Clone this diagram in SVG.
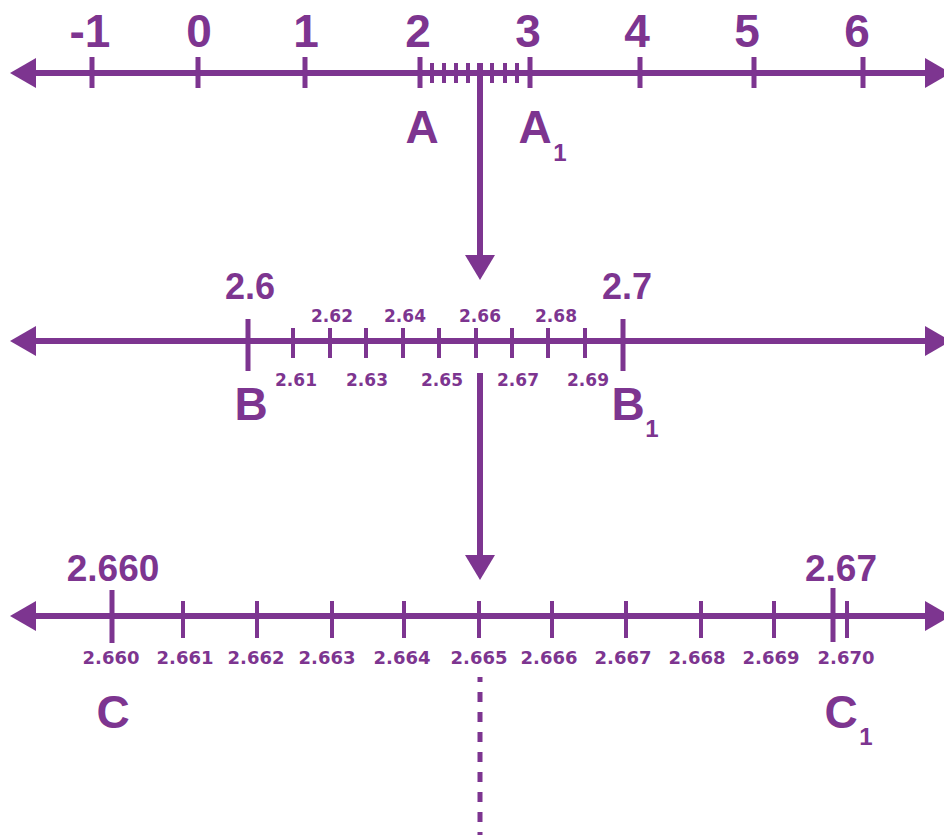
<svg xmlns="http://www.w3.org/2000/svg" width="944" height="835" viewBox="0 0 944 835">
<style>
.ln{stroke:#7D3590;stroke-width:6;fill:none}
.tk{stroke:#7D3590;stroke-width:5;fill:none}
.st{stroke:#7D3590;stroke-width:4;fill:none}
.ah{fill:#7D3590}
.big{font-family:"Liberation Sans",Arial,sans-serif;font-weight:bold;fill:#7D3590;text-anchor:middle}
.sm{font-family:"DejaVu Sans",Verdana,sans-serif;font-weight:bold;fill:#7D3590;text-anchor:middle}
.dash{stroke:#7D3590;stroke-width:5;fill:none;stroke-dasharray:10 10;stroke-dashoffset:5}
</style>
<g id="line1">
<line class="ln" x1="30" y1="73" x2="930" y2="73"/>
<polygon class="ah" points="10,73 36,58 36,88"/>
<polygon class="ah" points="951,73 925,58 925,88"/>
<g class="tk">
<line x1="92" y1="57" x2="92" y2="88"/>
<line x1="198" y1="57" x2="198" y2="88"/>
<line x1="305" y1="57" x2="305" y2="88"/>
<line x1="420" y1="57" x2="420" y2="88"/>
<line x1="530" y1="57" x2="530" y2="88"/>
<line x1="640" y1="57" x2="640" y2="88"/>
<line x1="754" y1="57" x2="754" y2="88"/>
<line x1="863" y1="57" x2="863" y2="88"/>
</g>
<g class="st">
<line x1="432" y1="63" x2="432" y2="83"/>
<line x1="444" y1="63" x2="444" y2="83"/>
<line x1="456" y1="63" x2="456" y2="83"/>
<line x1="468" y1="63" x2="468" y2="83"/>
<line x1="480" y1="63" x2="480" y2="83"/>
<line x1="492" y1="63" x2="492" y2="83"/>
<line x1="505" y1="63" x2="505" y2="83"/>
<line x1="517" y1="63" x2="517" y2="83"/>
</g>
<g class="big" font-size="46">
<text x="90" y="47">-1</text>
<text x="199" y="47">0</text>
<text x="306" y="47">1</text>
<text x="418" y="47">2</text>
<text x="528" y="47">3</text>
<text x="637" y="47">4</text>
<text x="747" y="47">5</text>
<text x="857" y="47">6</text>
<text x="422" y="143">A</text>
<text x="535" y="143">A</text>
<text x="560" y="161" font-size="24">1</text>
</g>
</g>
<g id="line2">
<line class="ln" x1="30" y1="341" x2="930" y2="341"/>
<polygon class="ah" points="10,341 36,326 36,356"/>
<polygon class="ah" points="951,341 925,326 925,356"/>
<g class="tk">
<line x1="248" y1="319" x2="248" y2="371"/>
<line x1="623" y1="319" x2="623" y2="371"/>
</g>
<g class="st">
<line x1="293" y1="328" x2="293" y2="358"/>
<line x1="330" y1="328" x2="330" y2="358"/>
<line x1="366" y1="328" x2="366" y2="358"/>
<line x1="403" y1="328" x2="403" y2="358"/>
<line x1="439" y1="328" x2="439" y2="358"/>
<line x1="476" y1="328" x2="476" y2="358"/>
<line x1="512" y1="328" x2="512" y2="358"/>
<line x1="548" y1="328" x2="548" y2="358"/>
<line x1="585" y1="328" x2="585" y2="358"/>
</g>
<g class="big" font-size="36">
<text x="250" y="299">2.6</text>
<text x="627" y="299">2.7</text>
</g>
<g class="sm" font-size="17">
<text x="332" y="322">2.62</text>
<text x="405" y="322">2.64</text>
<text x="480" y="322">2.66</text>
<text x="556" y="322">2.68</text>
<text x="296" y="386">2.61</text>
<text x="367" y="386">2.63</text>
<text x="442" y="386">2.65</text>
<text x="518" y="386">2.67</text>
<text x="588" y="386">2.69</text>
</g>
<g class="big" font-size="46">
<text x="251" y="420">B</text>
<text x="628" y="420">B</text>
<text x="652" y="437" font-size="24">1</text>
</g>
</g>
<g id="line3">
<line class="ln" x1="30" y1="616" x2="930" y2="616"/>
<polygon class="ah" points="10,616 36,601 36,631"/>
<polygon class="ah" points="951,616 925,601 925,631"/>
<g class="tk">
<line x1="112" y1="590" x2="112" y2="643"/>
<line x1="833" y1="588" x2="833" y2="642"/>
</g>
<g class="st">
<line x1="183" y1="601" x2="183" y2="638"/>
<line x1="257" y1="601" x2="257" y2="638"/>
<line x1="332" y1="601" x2="332" y2="638"/>
<line x1="404" y1="601" x2="404" y2="638"/>
<line x1="479" y1="601" x2="479" y2="638"/>
<line x1="552" y1="601" x2="552" y2="638"/>
<line x1="626" y1="601" x2="626" y2="638"/>
<line x1="701" y1="601" x2="701" y2="638"/>
<line x1="774" y1="601" x2="774" y2="638"/>
<line x1="847" y1="601" x2="847" y2="638"/>
</g>
<g class="big" font-size="37">
<text x="113" y="581">2.660</text>
<text x="841" y="581">2.67</text>
</g>
<g class="sm" font-size="18">
<text x="111" y="664">2.660</text>
<text x="185" y="664">2.661</text>
<text x="256" y="664">2.662</text>
<text x="327" y="664">2.663</text>
<text x="402" y="664">2.664</text>
<text x="479" y="664">2.665</text>
<text x="549" y="664">2.666</text>
<text x="623" y="664">2.667</text>
<text x="697" y="664">2.668</text>
<text x="771" y="664">2.669</text>
<text x="846" y="664">2.670</text>
</g>
<g class="big" font-size="46">
<text x="113" y="728">C</text>
<text x="841" y="728">C</text>
<text x="866" y="745" font-size="24">1</text>
</g>
</g>
<g id="connectors">
<line class="ln" x1="480" y1="63" x2="480" y2="258"/>
<polygon class="ah" points="465,255 495,255 480,280"/>
<line class="ln" x1="480" y1="373" x2="480" y2="558"/>
<polygon class="ah" points="465,555 495,555 480,580"/>
<line class="dash" x1="480" y1="677" x2="480" y2="835"/>
</g>
</svg>
